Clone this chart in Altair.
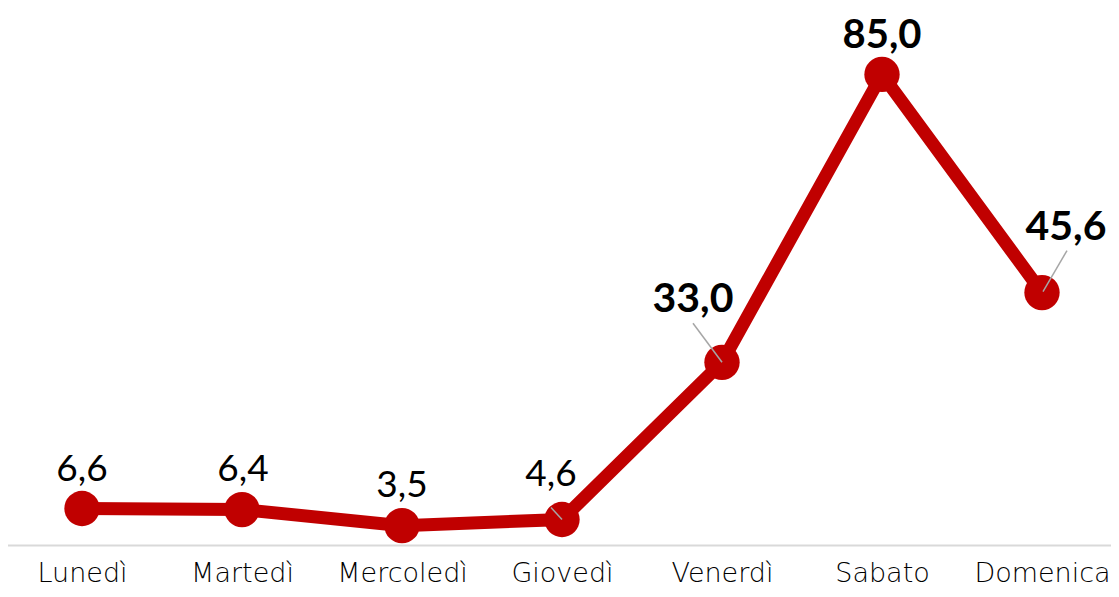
import altair as alt
import pandas as pd

days = ["Lunedì", "Martedì", "Mercoledì", "Giovedì", "Venerdì", "Sabato", "Domenica"]
values = [6.6, 6.4, 3.5, 4.6, 33.0, 85.0, 45.6]
labels = ["6,6", "6,4", "3,5", "4,6", "33,0", "85,0", "45,6"]
bold = [False, False, False, False, True, True, True]

df = pd.DataFrame({"day": days, "value": values, "label": labels, "bold": bold})

RED = "#C00000"
FONT = "Lato"
AXFONT = "DejaVu Sans"

x = alt.X("day:N", sort=days, scale=alt.Scale(type="point", range=[-6, 1114], padding=0.5),
          axis=alt.Axis(title=None, labelAngle=0, labelFontSize=27, labelFont=AXFONT,
                        labelFontWeight=200, labelBaseline="alphabetic",
                        labelColor="#000000", labelPadding=36, ticks=False,
                        domainColor="#d9d9d9", domainWidth=2, grid=False))
y = alt.Y("value:Q", scale=alt.Scale(domain=[0, 97], nice=False, zero=True), axis=None)

base = alt.Chart(df).encode(x=x, y=y)

line = base.mark_line(color=RED, strokeWidth=13)
points = base.mark_circle(color=RED, size=1250, opacity=1)

# label offsets (pixels) relative to each point: dx, dy, font size
offsets = {
    "Lunedì": (0, -27, 37),
    "Martedì": (1, -29, 37),
    "Mercoledì": (0, -29, 37),
    "Giovedì": (-11, -34, 37),
    "Venerdì": (-29, -50, 41),
    "Sabato": (0, -26, 40),
    "Domenica": (24, -53, 41),
}

layers = [line, points]

# leader lines: start offset (x, y) and end offset (x, y) relative to the point
leaders = {
    "Venerdì": (-29, -39, 0, 0),
    "Domenica": (25, -42, 1, -1),
    "Giovedì": (-11, -12, 0, 0),
}
for d, (x1o, y1o, x2o, y2o) in leaders.items():
    layers.append(
        base.transform_filter(alt.datum.day == d).mark_rule(
            color="#a6a6a6", strokeWidth=1.5, xOffset=x1o, yOffset=y1o,
            x2Offset=x2o, y2Offset=y2o
        ).encode(x2="day:N", y2="value:Q")
    )

for d, b in zip(days, bold):
    dx, dy, fs = offsets[d]
    layers.append(
        base.transform_filter(alt.datum.day == d).mark_text(
            dx=dx, dy=dy, fontSize=fs, font=FONT, baseline="alphabetic", align="center",
            fontWeight="bold" if b else "normal", color="#000000"
        ).encode(text="label:N")
    )

chart = alt.layer(*layers).properties(
    width=1103, height=537,
    autosize=alt.AutoSizeParams(type="none"),
    padding={"left": 0, "top": 0, "right": 0, "bottom": 44},
    background="#ffffff",
).configure_view(stroke=None)

chart.save("out.html", embed_options={"renderer": "svg", "actions": False})
